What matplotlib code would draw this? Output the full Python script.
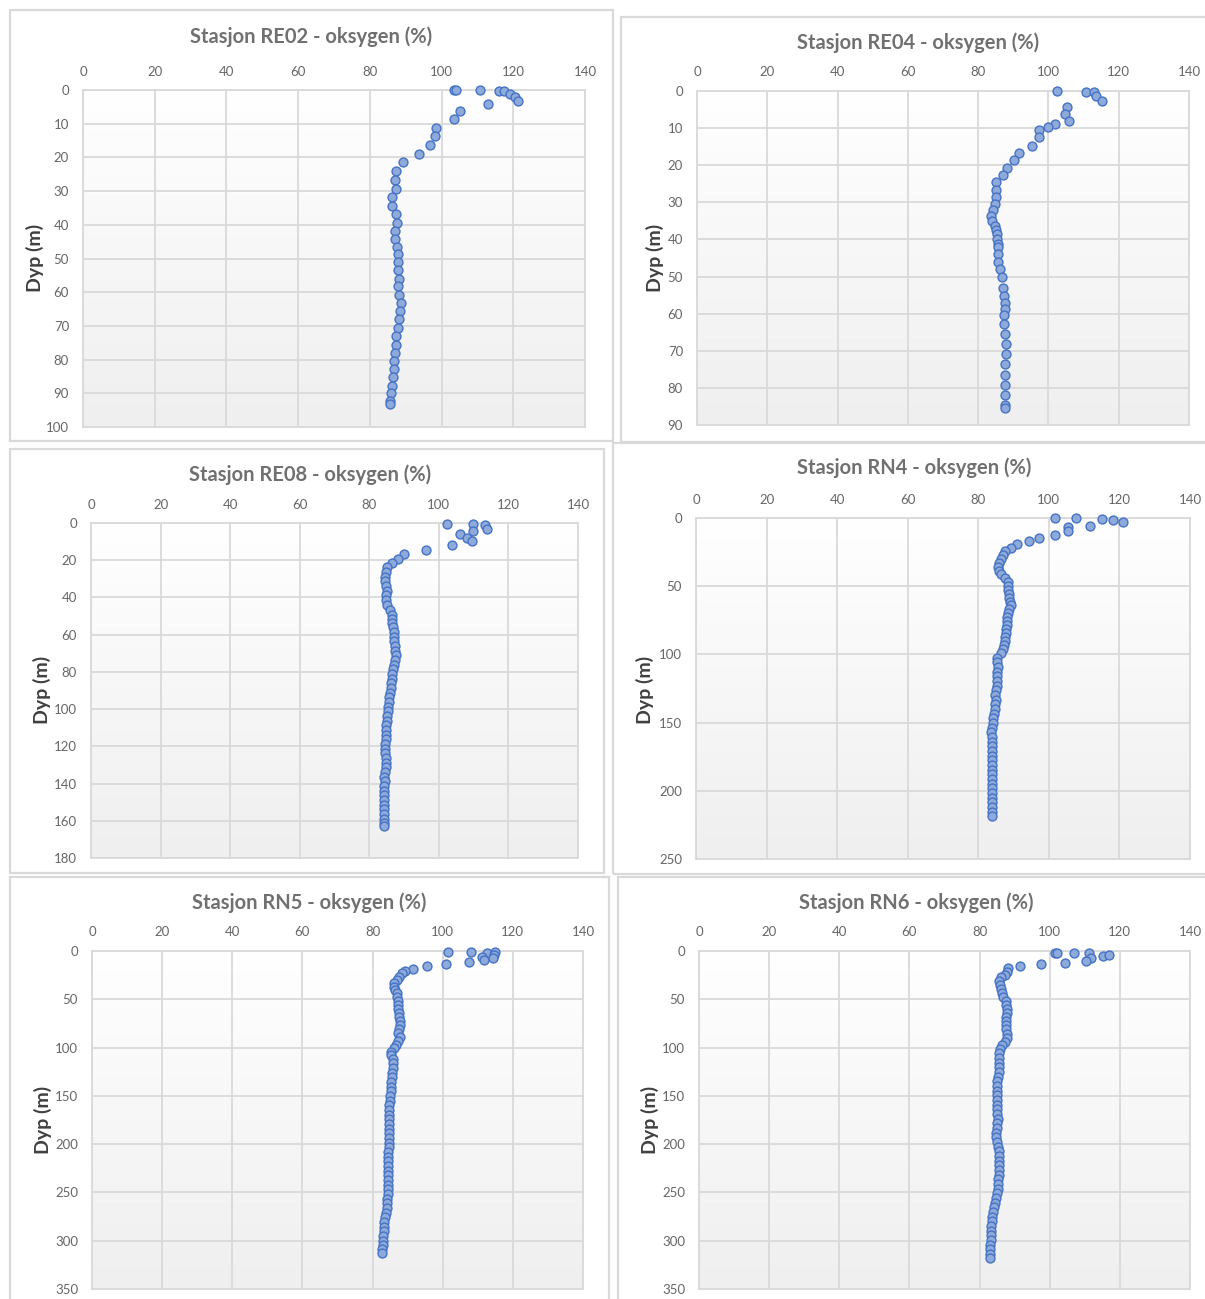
import numpy as np
import matplotlib
matplotlib.use('Agg')
import matplotlib.pyplot as plt
from matplotlib.patches import Rectangle

plt.rcParams['font.family'] = ['Lato', 'DejaVu Sans']

### data ###
re02_dyp = [0, 0, 0, 0.2, 0.2, 1.2, 2.2, 3.2, 4.3, 6.1, 8.7, 11.2, 13.6, 16.3, 19.0,
            21.4, 24.1, 26.7, 29.4, 31.8, 34.3, 36.8, 39.4, 41.7, 44.1, 46.5, 48.8,
            51.0, 53.5, 56.0, 58.3, 60.7, 63.1, 65.6, 68.1, 70.6, 73.1, 75.6, 78.0,
            80.5, 82.9, 85.3, 87.7, 90.0, 92.2, 93.2]
re02_oks = [103.5, 104.0, 110.7, 116.1, 117.4, 119.2, 120.5, 121.3, 113.0, 105.1, 103.5,
            98.5, 98.2, 96.9, 93.8, 89.3, 87.4, 87.0, 87.2, 86.3, 86.2, 87.2, 87.7,
            87.0, 87.0, 87.7, 87.9, 87.9, 87.9, 88.1, 87.9, 88.1, 88.6, 88.4, 88.1,
            87.9, 87.4, 87.2, 87.0, 86.8, 86.6, 86.4, 86.2, 85.9, 85.7, 85.7]

re04_dyp = [0.0, 0.2, 0.3, 1.3, 2.6, 4.2, 6.3, 8.1, 8.9, 9.7, 10.5, 12.5, 14.7, 16.7,
            18.7, 20.7, 22.6, 24.6, 26.6, 28.5, 30.4, 32.1, 33.6, 34.9, 36.3, 37.5,
            38.6, 39.8, 41.2, 42.1, 43.9, 46.0, 48.0, 50.2, 53.0, 55.2, 57.0, 58.7,
            60.4, 62.7, 65.6, 68.2, 70.9, 73.6, 76.4, 79.3, 82.0, 84.5, 85.3]
re04_oks = [102.4, 110.7, 113.0, 113.5, 115.2, 105.3, 104.6, 105.9, 101.9, 99.8, 97.3,
            97.2, 95.2, 91.6, 90.1, 88.3, 87.0, 85.1, 85.1, 85.0, 84.8, 84.3, 83.7,
            84.0, 84.9, 85.2, 85.3, 85.4, 85.6, 85.6, 85.6, 85.7, 86.2, 86.8, 87.2,
            87.4, 87.6, 87.6, 87.4, 87.4, 87.6, 87.8, 87.8, 87.6, 87.6, 87.6, 87.6,
            87.6, 87.6]

re08_dyp = [0.5, 0.5, 0.9, 3.2, 4.3, 6.1, 7.9, 9.8, 11.6, 14.3, 16.5, 19.2, 21.3, 23.8,
            26.3, 28.8, 31.3, 33.9, 36.4, 38.9, 41.4, 44.2, 46.7, 49.3, 51.7, 53.9,
            56.0, 58.6, 61.1, 63.6, 66.1, 68.6, 71.1, 73.6, 76.2, 78.6, 81.1, 83.7,
            86.1, 88.7, 91.2, 93.7, 96.2, 98.7, 101.2, 103.7, 106.2, 108.7, 111.2,
            113.8, 116.2, 118.8, 121.3, 123.7, 126.3, 128.8, 131.3, 133.8, 136.3,
            138.8, 141.3, 143.8, 146.3, 148.8, 151.4, 153.8, 156.4, 158.9, 161.0, 162.8]
re08_oks = [102.2, 109.7, 113.3, 113.7, 109.7, 106.2, 108.0, 109.5, 103.8, 96.4, 89.9,
            88.2, 86.6, 85.2, 84.7, 84.5, 84.5, 84.8, 85.2, 84.8, 84.8, 85.2, 85.9,
            86.6, 86.6, 86.4, 86.7, 87.0, 87.1, 87.2, 87.3, 87.5, 87.6, 87.4, 87.0,
            86.7, 86.6, 86.5, 86.3, 86.1, 86.0, 85.7, 85.6, 85.4, 85.3, 85.2, 85.0,
            84.8, 84.7, 84.7, 84.8, 84.6, 84.5, 84.5, 84.7, 84.8, 84.8, 84.5, 84.3,
            84.4, 84.2, 84.3, 84.3, 84.3, 84.3, 84.3, 84.2, 84.2, 84.3, 84.3]

rn4_dyp = [0.0, 0.0, 0.7, 1.7, 3.2, 5.6, 6.6, 9.5, 12.5, 14.4, 16.9, 19.3, 21.8, 24.2,
           27.1, 30.1, 33.0, 35.9, 38.9, 41.3, 43.8, 46.7, 49.6, 52.6, 55.5, 58.4,
           61.4, 63.8, 66.7, 69.6, 72.6, 75.5, 78.4, 81.4, 84.3, 87.2, 90.2, 93.1,
           96.0, 99.0, 102.4, 105.8, 109.2, 112.7, 116.1, 119.5, 122.9, 126.3, 129.8,
           133.2, 136.6, 140.0, 143.5, 146.8, 150.3, 153.7, 157.1, 160.6, 164.0,
           167.4, 170.8, 174.3, 177.6, 181.1, 184.5, 187.9, 191.3, 194.8, 198.2,
           201.6, 205.1, 208.4, 211.9, 215.3, 218.3]
rn4_oks = [101.7, 107.7, 115.0, 118.1, 121.1, 111.8, 105.5, 105.3, 101.7, 97.2, 94.4,
           91.0, 89.2, 87.6, 87.1, 86.3, 85.8, 85.6, 85.8, 86.5, 87.6, 88.3, 88.5,
           88.3, 88.6, 88.8, 89.0, 89.2, 88.8, 88.5, 88.2, 88.1, 88.0, 87.9, 87.8,
           87.7, 87.6, 87.4, 87.1, 86.5, 85.2, 85.4, 85.6, 85.4, 85.2, 85.4, 85.2,
           85.0, 84.8, 85.0, 84.8, 84.6, 84.4, 84.3, 84.1, 84.0, 83.7, 83.8, 84.0,
           84.0, 84.0, 84.0, 84.0, 84.0, 84.0, 84.0, 84.0, 84.0, 84.0, 84.0, 84.0,
           84.0, 84.0, 84.0, 84.0]

rn5_dyp = [0.7, 0.7, 1.7, 0.7, 4.1, 5.9, 9.3, 7.6, 11.7, 13.8, 15.2, 18.6, 20.7, 23.1,
           26.6, 30.0, 33.6, 37.0, 40.4, 43.9, 48.0, 52.2, 56.3, 60.5, 64.6, 68.8,
           72.9, 77.1, 81.2, 85.4, 89.5, 92.9, 97.1, 100.6, 104.7, 108.1, 112.3,
           116.4, 121.2, 126.1, 130.8, 135.7, 140.5, 145.3, 150.2, 155.0, 159.8,
           164.6, 169.5, 174.3, 179.1, 184.0, 188.8, 193.6, 198.5, 203.3, 208.1,
           213.0, 217.8, 222.6, 227.5, 232.3, 237.1, 242.0, 246.8, 251.6, 256.5,
           261.3, 266.1, 271.0, 275.8, 280.6, 285.5, 290.3, 295.1, 300.0, 304.8,
           308.9, 313.1]
rn5_oks = [101.4, 108.1, 112.5, 114.8, 114.6, 111.1, 111.9, 114.3, 107.6, 100.8, 95.4,
           91.4, 89.2, 88.4, 87.6, 86.9, 86.2, 86.2, 86.4, 86.9, 87.1, 87.3, 87.3,
           87.3, 87.4, 87.6, 87.7, 87.8, 87.6, 87.3, 87.8, 87.3, 86.7, 86.1, 85.3,
           85.2, 85.7, 85.9, 85.7, 85.6, 85.5, 85.3, 85.2, 85.2, 85.0, 85.0, 84.8,
           84.6, 84.7, 84.8, 84.8, 84.7, 84.7, 84.7, 84.7, 84.6, 84.5, 84.5, 84.5,
           84.5, 84.5, 84.5, 84.5, 84.5, 84.5, 84.5, 84.2, 84.0, 84.0, 83.8, 83.5,
           83.3, 83.3, 83.2, 83.1, 83.0, 82.9, 82.8, 82.7]

rn6_dyp = [1.7, 2.0, 1.7, 2.0, 7.6, 10.0, 5.2, 4.1, 12.1, 13.5, 15.5, 17.6, 21.7, 24.5,
           27.3, 31.4, 35.5, 39.7, 43.8, 48.0, 52.1, 56.3, 60.4, 64.6, 68.7, 72.9,
           77.0, 81.2, 86.0, 90.2, 94.3, 97.8, 101.9, 106.0, 110.9, 115.7, 120.5,
           125.4, 130.2, 135.0, 139.9, 144.7, 149.5, 154.4, 159.2, 164.0, 168.8,
           173.7, 178.5, 183.3, 188.2, 193.0, 197.8, 202.7, 207.5, 212.3, 217.2,
           222.0, 226.8, 231.7, 236.5, 241.4, 246.2, 251.0, 255.8, 260.7, 265.5,
           270.3, 275.2, 280.0, 284.8, 289.7, 294.5, 299.3, 304.1, 309.0, 313.8, 318.2]
rn6_oks = [101.4, 102.0, 106.9, 111.2, 111.8, 110.4, 115.1, 116.8, 104.4, 97.4, 91.4,
           88.2, 87.9, 87.2, 86.0, 85.6, 85.8, 86.0, 86.4, 86.8, 87.5, 87.6, 87.7,
           87.7, 87.6, 87.5, 87.5, 87.5, 87.7, 87.7, 87.2, 86.3, 85.8, 85.6, 85.6,
           85.6, 85.6, 85.5, 85.3, 85.1, 85.1, 85.1, 84.9, 84.9, 84.9, 85.1, 85.1,
           85.2, 85.1, 84.9, 84.7, 84.7, 85.1, 85.3, 85.4, 85.4, 85.4, 85.4, 85.4,
           85.4, 85.3, 85.2, 85.2, 84.9, 84.6, 84.3, 84.0, 83.7, 83.6, 83.5, 83.4,
           83.3, 83.2, 83.2, 83.1, 83.1, 83.1, 83.1]

stations = ['RE02', 'RE04', 'RE08', 'RN4', 'RN5', 'RN6']
y_max = [100, 90, 180, 250, 350, 350]
y_step = [10, 10, 20, 50, 50, 50]
x_ticks = [0, 20, 40, 60, 80, 100, 120, 140]

W, H = 1205, 1299
TITLE_C = '#707070'
TICK_C = '#666666'
GRID_C = '#d9d9d9'

# layout in pixels (left, top, right, bottom)
frames = [(10, 10, 613, 441), (621, 17, 1212, 442), (10, 449, 604, 873),
          (613, 443, 1212, 874), (10, 877, 609, 1310), (618, 877, 1212, 1310)]
plots = [(83, 90, 585, 427), (697, 91, 1189, 425), (91, 523, 578, 858),
         (696, 518, 1190, 859), (92, 951, 583, 1289), (699, 951, 1190, 1289)]
title_pos = [(311, 37), (918, 43), (310, 475), (914, 468), (309, 903), (916, 903)]
ylab_pos = [(35, 258), (655, 258), (42, 690), (645, 690), (43, 1120), (650, 1120)]


def px(x, y):
    return x / W, 1 - y / H


fig = plt.figure(figsize=(W / 100, H / 100), dpi=100)

for (l, t, r, b) in frames:
    x0, y1 = px(l, b)
    x1, y0 = px(r, t)
    fig.patches.append(Rectangle((x0, y1), x1 - x0, y0 - y1, transform=fig.transFigure,
                                 fill=False, edgecolor=GRID_C, linewidth=1.6))

grad = np.linspace(0, 1, 256).reshape(-1, 1)
cmap = matplotlib.colors.LinearSegmentedColormap.from_list('bg', ['#ffffff', '#efefef'])

data = [(re02_oks, re02_dyp), (re04_oks, re04_dyp), (re08_oks, re08_dyp),
        (rn4_oks, rn4_dyp), (rn5_oks, rn5_dyp), (rn6_oks, rn6_dyp)]

for i in range(6):
    l, t, r, b = plots[i]
    x0, y0 = px(l, b)
    x1, y1 = px(r, t)
    ax = fig.add_axes([x0, y0, x1 - x0, y1 - y0])
    ax.imshow(grad, cmap=cmap, aspect='auto', extent=[0, 1, 0, 1],
              transform=ax.transAxes, zorder=0, origin='upper')
    oks, dyp = data[i]
    ax.plot(oks, dyp, linestyle='', marker='o', markersize=6.4,
            markerfacecolor='#8eaadb', markeredgecolor='#4472c4',
            markeredgewidth=1.0, zorder=3, clip_on=False)
    ax.set_xlim(0, 140)
    ax.set_ylim(y_max[i], 0)
    ax.set_xticks(x_ticks)
    ax.set_yticks(range(0, y_max[i] + 1, y_step[i]))
    ax.xaxis.tick_top()
    ax.tick_params(length=0, labelsize=9.5, labelcolor=TICK_C)
    ax.tick_params(axis='x', pad=9)
    ax.tick_params(axis='y', pad=10)
    ax.grid(True, color=GRID_C, linewidth=1.3, zorder=1)
    ax.set_axisbelow(True)
    for s in ax.spines.values():
        s.set_color(GRID_C)
        s.set_linewidth(1.3)

    tx, ty = px(*title_pos[i])
    fig.text(tx, ty, 'Stasjon ' + stations[i] + ' - oksygen (%)', ha='center',
             va='center', fontsize=14.5, fontweight='bold', color=TITLE_C)
    lx, ly = px(*ylab_pos[i])
    fig.text(lx, ly, 'Dyp (m)', rotation=90, ha='center', va='center',
             fontsize=14, fontweight='bold', color='#404040')

fig.savefig('out.png', dpi=100)
